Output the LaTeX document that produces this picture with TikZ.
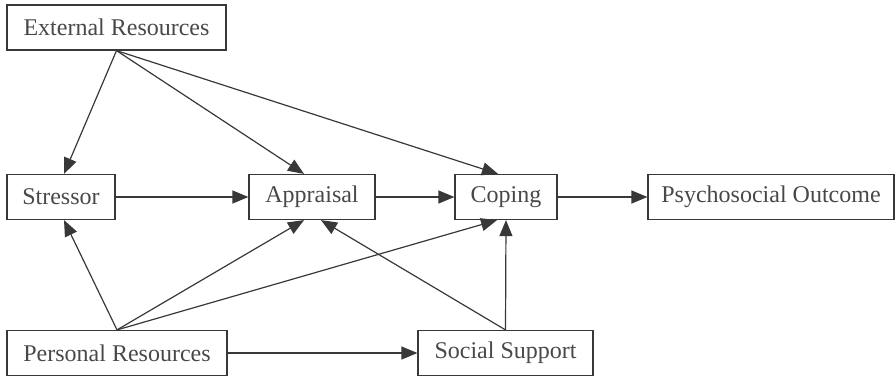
\documentclass[tikz,border=0pt]{standalone}
\usepackage{fontspec}
\setmainfont{Liberation Serif}
\usetikzlibrary{arrows.meta}
\definecolor{linegray}{HTML}{383838}
\definecolor{textgray}{HTML}{484848}
\tikzset{
	factor/.style={draw=linegray, line width=1.2pt, rectangle, inner sep=0pt,
		minimum height=45pt, text=textgray, font=\fontsize{24}{28}\selectfont},
	effect/.style={draw=linegray, line width=1.2pt,
		-{Triangle[length=16pt,width=13pt]}}
}
\begin{document}
\begin{tikzpicture}[x=1pt,y=-1pt]
		\useasboundingbox (0,0) rectangle (896,376);
		%%%%%%%%%%%%%%%%% factors %%%%%%%%%%%%%%%%%%%
		%  name/x/width/text, middle row at y=197
		\node[factor, minimum width=219pt] (ext) at (116.5,27.5) {External Resources};
		\foreach \name/\x/\w/\txt in {str/61/108/Stressor, app/312/126/Appraisal,
			cop/506/102/Coping, out/771/246/Psychosocial Outcome}
		{\node[factor, minimum width=\w pt] (\name) at (\x,197) {\txt};}
		\node[factor, minimum width=220pt] (per) at (117,353) {Personal Resources};
		\node[factor, minimum width=175pt] (soc) at (505.5,353) {Social Support};
		
		%%%%%%%%%%%%%%%%% effects %%%%%%%%%%%%%%%%%%%%%%%
		% main row, left to right
		\foreach \a/\b in {str/app, app/cop, cop/out}
		{\draw[effect] (\a) -- (\b);}
		\draw[effect] (per) -- (soc);
		
		% from external resources
		\draw[effect] (ext.south) -- ([xshift=3pt]str.north);
		\draw[effect] (ext.south) -- ([xshift=-8pt]app.north);
		\draw[effect] (ext.south) -- ([xshift=-8pt]cop.north);
		
		% from personal resources
		\draw[effect] (per.north) -- ([xshift=3pt]str.south);
		\draw[effect] (per.north) -- ([xshift=-8pt]app.south);
		\draw[effect] (per.north) -- ([xshift=-9pt]cop.south);
		
		% from social support
		\draw[effect] (soc.north) -- ([xshift=9pt]app.south);
		\draw[effect] (soc.north) -- ([xshift=0pt]cop.south);
	\end{tikzpicture}
\end{document}
